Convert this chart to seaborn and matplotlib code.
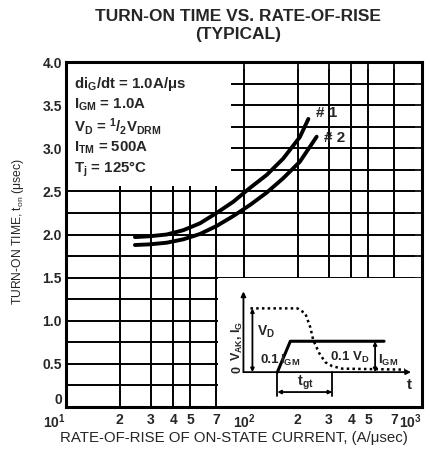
'''
Turn-on time vs. rate-of-rise of on-state current (typical),
redrawn from a thyristor datasheet curve.
'''
import matplotlib
matplotlib.use('Agg')
import matplotlib.pyplot as plt
import pandas as pd
import seaborn as sns
from matplotlib.patches import Rectangle
from matplotlib.ticker import FixedLocator, FixedFormatter, NullLocator

sns.set_style('white')
plt.rcParams['font.family'] = ['Liberation Sans', 'DejaVu Sans']
plt.rcParams['mathtext.fontset'] = 'custom'
plt.rcParams['mathtext.rm'] = 'Liberation Sans'
plt.rcParams['mathtext.bf'] = 'Liberation Sans:bold'
plt.rcParams['mathtext.it'] = 'Liberation Sans:italic'

# values
rate_1 = [24.4, 29.6, 36.8, 45.6, 56.6, 70.2, 87.1, 108, 134, 166, 206, 230]
time_1 = [1.97, 1.98, 2.00, 2.05, 2.13, 2.25, 2.38, 2.54, 2.69, 2.88, 3.13,
          3.34]
rate_2 = [24.4, 29.6, 36.8, 45.6, 56.6, 70.2, 87.1, 108, 134, 166, 206, 256]
time_2 = [1.878, 1.886, 1.905, 1.944, 2.006, 2.099, 2.214, 2.342, 2.485,
          2.652, 2.844, 3.134]

x_ticks = [10, 20, 30, 40, 50, 70, 100, 200, 300, 400, 500, 700, 1000]
x_labels = [r'10$^\mathbf{1}$', '2', '3', '4', '5', '7', r'10$^\mathbf{2}$',
            '2', '3', '4', '5', '7', r'10$^\mathbf{3}$']
y_ticks = [0, 0.5, 1.0, 1.5, 2.0, 2.5, 3.0, 3.5, 4.0]
y_labels = ['0', '0.5', '1.0', '1.5', '2.0', '2.5', '3.0', '3.5', '4.0']
y_minor = [0.25, 0.75, 1.25, 1.75, 2.25, 2.75, 3.25, 3.75]

conditions = [r'di$_\mathbf{G}$/dt = 1.0A/μs',
              r'I$_\mathbf{GM}$ = 1.0A',
              r'V$_\mathbf{D}$ = $^\mathbf{1}$/$_\mathbf{2}$V$_\mathbf{DRM}$',
              r'I$_\mathbf{TM}$ = 500A',
              r'T$_\mathbf{j}$ = 125°C']
condition_rows = [3.75, 3.5, 3.25, 3.0, 2.75]

# inset waveform sketch (schematic units)
vak_x = [33, 80, 88, 93, 96, 102, 108, 115, 125, 188]
vak_y = [99, 99, 94, 80, 67, 54, 45, 41, 38.5, 37.5]
ig_x = [60, 73, 167]
ig_y = [35, 66, 66]


def plot_turn_on_time():
    fig = plt.figure(figsize=(4.31, 4.59), dpi=100)
    ax = fig.add_axes([0.1531, 0.1133, 0.826, 0.7516])
    ax.set_xscale('log')
    ax.set_xlim(10, 1000)
    ax.set_ylim(0, 4.0)

    # grid drawn by hand so white boxes can mask it but not the ticks
    for x in x_ticks[1:-1]:
        ax.axvline(x, color='black', lw=1.4, zorder=0.5)
    for y in y_ticks[1:-1] + y_minor:
        ax.axhline(y, color='black', lw=1.4, zorder=0.5)
    ax.add_patch(Rectangle((10, 2.56), 74, 1.44, facecolor='white',
                           edgecolor='none', zorder=1))
    ax.add_patch(Rectangle((71, 0), 929, 1.49, facecolor='white',
                           edgecolor='none', zorder=1))

    df = pd.concat([
        pd.DataFrame({'rate': rate_1, 'time': time_1, 'curve': '#1'}),
        pd.DataFrame({'rate': rate_2, 'time': time_2, 'curve': '#2'}),
    ])
    sns.lineplot(data=df, x='rate', y='time', hue='curve',
                 palette=['black', 'black'], lw=2.8, estimator=None,
                 sort=False, legend=False, ax=ax, zorder=3,
                 solid_capstyle='round')
    ax.text(255, 3.41, '# 1', fontsize=11, fontweight='bold', va='center')
    ax.text(280, 3.12, '# 2', fontsize=11, fontweight='bold', va='center')

    for text, row in zip(conditions, condition_rows):
        ax.text(11.1, row, text, fontsize=10.8, fontweight='bold',
                va='center', ha='left', zorder=4)

    ax.xaxis.set_major_locator(FixedLocator(x_ticks))
    ax.xaxis.set_major_formatter(FixedFormatter(x_labels))
    ax.xaxis.set_minor_locator(NullLocator())
    ax.yaxis.set_major_locator(FixedLocator(y_ticks))
    ax.yaxis.set_major_formatter(FixedFormatter(y_labels))
    ax.yaxis.set_minor_locator(FixedLocator(y_minor))
    ax.tick_params(which='both', direction='in', top=True, right=True,
                   length=5, width=1.3, labelsize=10, pad=3)
    ax.tick_params(axis='x', pad=4)
    for lab in ax.get_xticklabels() + ax.get_yticklabels():
        lab.set_fontweight('bold')
    ax.get_yticklabels()[0].set_verticalalignment('bottom')
    ax.get_xticklabels()[0].set_horizontalalignment('right')
    ax.get_xticklabels()[-1].set_horizontalalignment('right')
    for sp in ax.spines.values():
        sp.set_linewidth(2.2)
        sp.set_color('black')
    ax.set_xlabel('')
    ax.set_ylabel('')

    fig.text(0.552, 0.963, 'TURN-ON TIME VS. RATE-OF-RISE', ha='center',
             va='center', fontsize=12.5, fontweight='bold')
    fig.text(0.552, 0.924, '(TYPICAL)', ha='center', va='center',
             fontsize=12.5, fontweight='bold')
    fig.text(0.042, 1 - 232 / 459, r'TURN-ON TIME, t$_\mathrm{on}$ (μsec)',
             rotation=90, ha='center', va='center', fontsize=8.7)
    fig.text(0.542, 0.046, 'RATE-OF-RISE OF ON-STATE CURRENT, (A/μsec)',
             ha='center', va='center', fontsize=10.8)

    # inset: gate current / anode voltage waveform
    ins = ax.inset_axes([71, 0, 929, 1.49], transform=ax.transData)
    ins.set_xlim(0, 205)
    ins.set_ylim(0, 129)
    ins.axis('off')
    ins.patch.set_alpha(0)
    arr = dict(lw=1.3, color='black', shrinkA=0, shrinkB=0)
    ins.annotate('', xy=(26, 116), xytext=(26, 35),
                 arrowprops=dict(arrowstyle='-|>', mutation_scale=7, **arr))
    ins.annotate('', xy=(194, 35), xytext=(26, 35),
                 arrowprops=dict(arrowstyle='-|>', mutation_scale=7, **arr))
    ins.plot(vak_x, vak_y, color='black', lw=1.8, ls=(0, (1.0, 1.3)))
    ins.plot(ig_x, ig_y, color='black', lw=2.2)
    ins.annotate('', xy=(35, 99), xytext=(35, 35),
                 arrowprops=dict(arrowstyle='<|-|>', mutation_scale=5, **arr))
    ins.annotate('', xy=(158, 66), xytext=(158, 35),
                 arrowprops=dict(arrowstyle='<|-|>', mutation_scale=5, **arr))
    ins.plot([60, 60], [35, 11], color='black', lw=1.3)
    ins.plot([115, 115], [35, 11], color='black', lw=1.3)
    ins.annotate('', xy=(115, 15), xytext=(60, 15),
                 arrowprops=dict(arrowstyle='<|-|>', mutation_scale=5, **arr))
    fs = 9.5
    ins.text(20, 66, r'V$_\mathbf{AK}$, I$_\mathbf{G}$', rotation=90,
             ha='center', va='center', fontsize=9, fontweight='bold')
    ins.text(20, 38, '0', rotation=90, ha='center', va='center',
             fontsize=9, fontweight='bold')
    ins.text(40, 75, r'V$_\mathbf{D}$', fontsize=fs + 0.5, fontweight='bold',
             va='center')
    ins.text(43, 47, '0.1', fontsize=fs, fontweight='bold', va='center')
    ins.text(63, 47, r'I$_\mathbf{GM}$', fontsize=fs, fontweight='bold',
             va='center')
    ins.text(113, 50, r'0.1 V$_\mathbf{D}$', fontsize=fs, fontweight='bold',
             va='center')
    ins.text(161, 47, r'I$_\mathbf{GM}$', fontsize=fs, fontweight='bold',
             va='center')
    ins.text(88, 24, r't$_\mathbf{gt}$', fontsize=fs + 1, fontweight='bold',
             ha='center', va='center')
    ins.text(192, 22, 't', fontsize=fs + 1.5, fontweight='bold',
             ha='center', va='center')

    fig.savefig('out.png', dpi=100)


def main():
    plot_turn_on_time()


if __name__ == '__main__':
    main()
